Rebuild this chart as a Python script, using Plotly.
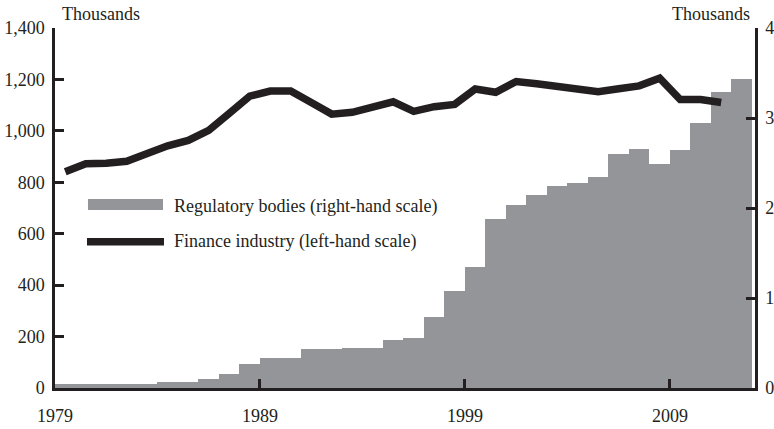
import numpy as np
import plotly.graph_objects as go

# ---- data ----
bar_years = list(range(1979, 2013))
regulatory_bodies = [0.04, 0.04, 0.04, 0.04, 0.04, 0.07, 0.07, 0.10, 0.16, 0.27,
                     0.33, 0.33, 0.43, 0.43, 0.45, 0.45, 0.53, 0.56, 0.79, 1.08,
                     1.34, 1.88, 2.03, 2.14, 2.25, 2.28, 2.34, 2.60, 2.66, 2.49,
                     2.64, 2.95, 3.29, 3.43]

line_years = list(range(1979, 2012))
finance_industry = [841, 872, 874, 882, 912, 942, 963, 1002, 1068, 1135,
                    1155, 1155, 1110, 1065, 1072, 1092, 1113, 1076, 1094, 1103,
                    1163, 1150, 1192, 1183, 1173, 1162, 1152, 1164, 1175, 1205,
                    1122, 1122, 1110]

x_tick_vals = [1979, 1989, 1999, 2009]
left_ticks = [0, 200, 400, 600, 800, 1000, 1200, 1400]
right_ticks = [0, 1, 2, 3, 4]

bar_label = "Regulatory bodies (right-hand scale)"
line_label = "Finance industry (left-hand scale)"
unit_label = "Thousands"

FONT = "Liberation Serif"
INK = "#231f20"
GREY = "#939598"

fig = go.Figure()
fig.add_trace(go.Bar(
    x=bar_years, y=regulatory_bodies, width=1, offset=0,
    marker=dict(color=GREY, line=dict(width=0)),
    yaxis="y", name=bar_label, showlegend=False, hoverinfo="skip",
))
fig.add_trace(go.Scatter(
    x=np.array(line_years) + 0.5, y=finance_industry, mode="lines",
    line=dict(color=INK, width=7.5), yaxis="y2", name=line_label,
    showlegend=False, hoverinfo="skip",
))

axis_common = dict(showgrid=False, zeroline=False, showline=True,
                   linecolor=INK, linewidth=2.5, ticks="inside", ticklen=9,
                   tickwidth=2.5, tickcolor=INK, automargin=False,
                   layer="above traces",
                   tickfont=dict(family=FONT, size=18, color=INK))

fig.update_layout(
    width=774, height=429,
    margin=dict(l=55, r=19, t=28, b=41, autoexpand=False),
    plot_bgcolor="white", paper_bgcolor="white",
    bargap=0,
    xaxis=dict(range=[1979, 2013.15], tickvals=x_tick_vals,
               ticklabelstandoff=10, **axis_common),
    yaxis=dict(side="right", range=[0, 4], tickvals=right_ticks,
               ticklabelstandoff=4, **axis_common),
    yaxis2=dict(side="left", overlaying="y", range=[0, 1400],
                tickvals=left_ticks, tickformat=",d",
                ticklabelstandoff=4, **axis_common),
)

# legend drawn as shapes + text
fig.add_shape(type="rect", xref="paper", yref="paper",
              x0=0.0471, x1=0.1543, y0=0.4944, y1=0.525,
              fillcolor=GREY, line=dict(width=0))
fig.add_shape(type="line", xref="paper", yref="paper",
              x0=0.0457, x1=0.1557, y0=0.4064, y1=0.4064,
              line=dict(color=INK, width=7.5))
fig.add_annotation(text=bar_label, xref="paper", yref="paper",
                   x=0.167, y=0.503, xanchor="left", yanchor="middle",
                   showarrow=False, font=dict(family=FONT, size=18, color=INK))
fig.add_annotation(text=line_label, xref="paper", yref="paper",
                   x=0.167, y=0.4056, xanchor="left", yanchor="middle",
                   showarrow=False, font=dict(family=FONT, size=18, color=INK))
fig.add_annotation(text=unit_label, xref="paper", yref="paper",
                   x=0.007, y=1.039, xanchor="left", yanchor="middle",
                   showarrow=False, font=dict(family=FONT, size=18, color=INK))
fig.add_annotation(text=unit_label, xref="paper", yref="paper",
                   x=0.9957, y=1.039, xanchor="right", yanchor="middle",
                   showarrow=False, font=dict(family=FONT, size=18, color=INK))

fig.write_html("out.html",
               config={"displayModeBar": False},
               post_script="document.body.style.margin='0';document.body.style.overflow='hidden';")
